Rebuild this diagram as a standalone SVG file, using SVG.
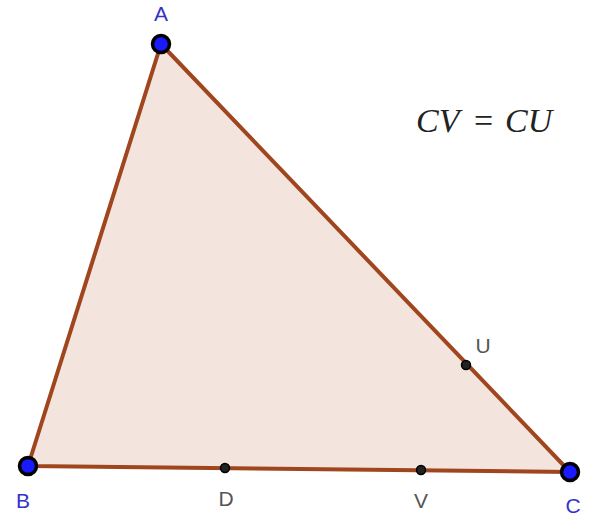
<svg xmlns="http://www.w3.org/2000/svg" width="589" height="522" viewBox="0 0 589 522">
<style>
.lbl{font-family:"Liberation Sans",Arial,sans-serif;font-size:21px;text-anchor:middle}
.blue{fill:#3333cc}
.gray{fill:#555555}
.big{fill:#1a1aff;stroke:#000;stroke-width:3.5}
.small{fill:#222;stroke:#000;stroke-width:1.5}
</style>
<rect width="589" height="522" fill="#fff"/>
<g id="connectors">
<polygon points="161,44 28,466 570,472" fill="#f3e4de" stroke="#a0461e" stroke-width="4" stroke-linejoin="round"/>
</g>
<g id="A"><circle cx="161" cy="44" r="8.5" class="big"/><text x="161" y="21" class="lbl blue">A</text></g>
<g id="B"><circle cx="28" cy="466" r="8.5" class="big"/><text x="23" y="508" class="lbl blue">B</text></g>
<g id="C"><circle cx="570" cy="472" r="8.5" class="big"/><text x="573" y="513" class="lbl blue">C</text></g>
<g id="D"><circle cx="225" cy="468" r="4.5" class="small"/><text x="226" y="506" class="lbl gray">D</text></g>
<g id="V"><circle cx="421" cy="470" r="4.5" class="small"/><text x="421" y="508" class="lbl gray">V</text></g>
<g id="U"><circle cx="466" cy="365" r="4.5" class="small"/><text x="483" y="353" class="lbl gray">U</text></g>
<text y="132" font-family="'Liberation Serif','Times New Roman',serif" font-size="34" font-style="italic" fill="#222"><tspan x="416">CV</tspan><tspan x="474" font-style="normal">=</tspan><tspan x="505">CU</tspan></text>
</svg>
